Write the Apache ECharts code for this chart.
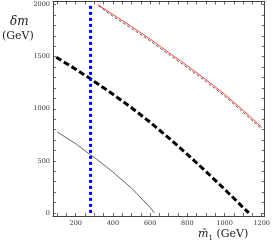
<!DOCTYPE html>
<html><head><meta charset="utf-8">
<script src="https://cdn.jsdelivr.net/npm/echarts@6/dist/echarts.min.js"></script>
<style>html,body{margin:0;padding:0;background:#fff}#c{width:273px;height:247px}</style>
</head><body><div id="c"></div>
<script>
// Data
const thickDashed = [[95,1495],[200,1380],[279,1288],[300,1262],[400,1140],[500,1010],[600,870],[700,720],[800,562],[900,398],[1000,228],[1100,52],[1130,0]];
const thinSolid = [[100,778],[200,665],[279,558],[300,533],[400,392],[500,238],[600,52],[623,0]];
const redLine = [[318,2000],[400,1905],[500,1790],[600,1670],[700,1540],[800,1413],[900,1280],[1000,1140],[1100,985],[1200,822]];
const grayDashed = [[322,1990],[400,1888],[500,1772],[600,1652],[700,1522],[800,1395],[900,1262],[1000,1122],[1100,967],[1200,804]];
const blueDotted = [[280,0],[280,2000]];
const xTickLabels = [200,400,600,800,1000,1200];
const yTickLabels = [0,500,1000,1500,2000];
const xMinorTicks = [100,150,200,250,300,350,400,450,500,550,600,650,700,750,800,850,900,950,1000,1050,1100,1150,1200];
const yMinorTicks = [0,100,200,300,400,500,600,700,800,900,1000,1100,1200,1300,1400,1500,1600,1700,1800,1900,2000];

const chart = echarts.init(document.getElementById('c'));
const serif = 'DejaVu Serif';
const XMIN = 78, XMAX = 1216, YMIN = -30, YMAX = 2030;
const lineC = '#444';
const fmt = v => String(v);
function xAx(pos, labels){
  return {type:'value', position:pos, min:XMIN, max:XMAX,
    axisLine:{show:true, onZero:false, lineStyle:{color:lineC, width:1}},
    axisTick:{show:true, inside:true, length:3, customValues:xMinorTicks, lineStyle:{color:lineC, width:0.8}},
    axisLabel:{show:labels, customValues:xTickLabels, formatter:fmt, fontFamily:serif, fontSize:6.5, color:'#333', margin:4},
    splitLine:{show:false}};
}
function yAx(pos, labels){
  return {type:'value', position:pos, min:YMIN, max:YMAX,
    axisLine:{show:true, onZero:false, lineStyle:{color:lineC, width:1}},
    axisTick:{show:true, inside:true, length:3, customValues:yMinorTicks, lineStyle:{color:lineC, width:0.8}},
    axisLabel:{show:labels, customValues:yTickLabels, formatter:fmt, fontFamily:serif, fontSize:6.5, color:'#333', margin:3},
    splitLine:{show:false}};
}
chart.setOption({
  animation:false,
  grid:{left:53, right:5, top:1.5, bottom:31, containLabel:false},
  xAxis:[xAx('bottom', true), xAx('top', false)],
  yAxis:[yAx('left', true), yAx('right', false)],
  series:[
    {type:'line', data:thinSolid, showSymbol:false, lineStyle:{color:'#222', width:0.7}},
    {type:'line', data:thickDashed, showSymbol:false, lineStyle:{color:'#000', width:3, type:[6,3]}},
    {type:'line', data:grayDashed, showSymbol:false, lineStyle:{color:'#555', width:1, type:[3,2]}},
    {type:'line', data:redLine, showSymbol:false, lineStyle:{color:'#ff3b3b', width:1}},
    {type:'line', data:blueDotted, showSymbol:false, lineStyle:{color:'#0000ff', width:3, type:[3,3]}}
  ],
  graphic:[
    {type:'text', left:10, top:16, style:{text:'δm', font:'italic 12px "DejaVu Serif"', fill:'#222'}},
    {type:'text', left:2, top:31, style:{text:'(GeV)', font:'11px "DejaVu Serif"', fill:'#222'}},
    {type:'text', left:198, top:229, style:{rich:{i:{fontFamily:serif, fontStyle:'italic', fontSize:11, fill:'#222'}, s:{fontFamily:serif, fontSize:7, fill:'#222', verticalAlign:'bottom', padding:[7,0,0,0]}, n:{fontFamily:serif, fontSize:11, fill:'#222'}}, text:'{i|m̃}{s|1}{n| (GeV)}'}}
  ]
});
</script></body></html>
